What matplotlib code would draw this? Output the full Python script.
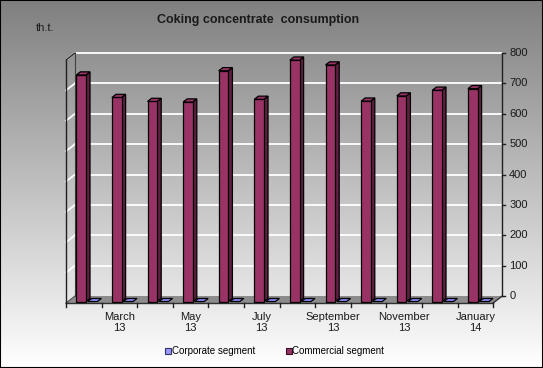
import numpy as np
import matplotlib
matplotlib.use("Agg")
import matplotlib.pyplot as plt
from matplotlib.patches import Polygon, Rectangle
from matplotlib.lines import Line2D

# ---- data ----
months = ["February\n13", "March\n13", "April\n13", "May\n13", "June\n13", "July\n13",
          "August\n13", "September\n13", "October\n13", "November\n13", "December\n13", "January\n14"]
shown_labels = ["", "March\n13", "", "May\n13", "", "July\n13",
                "", "September\n13", "", "November\n13", "", "January\n14"]
commercial = [746, 672, 659, 657, 760, 666, 795, 779, 660, 677, 696, 701]
corporate = [0, 0, 0, 0, 0, 0, 0, 0, 0, 0, 0, 0]
y_ticks = [0, 100, 200, 300, 400, 500, 600, 700, 800]
series_names = ["Corporate segment", "Commercial segment"]

plt.rcParams['font.family'] = ['Liberation Sans', 'DejaVu Sans']

W_PX, H_PX = 543, 368
DPI = 100
fig = plt.figure(figsize=(W_PX / DPI, H_PX / DPI), dpi=DPI)
ax = fig.add_axes([0, 0, 1, 1])
ax.set_axis_off()

# pixel geometry of the pseudo-3D frame
x0_px, cat_px = 66.0, 35.6      # front-left corner, px per category
y0_px, val_px = 303.0, 243.0 / 800  # front floor line, px per unit
dx_px, dy_px = 9.0, 7.0         # depth offset (front -> back)
n = len(commercial)

xl = (-x0_px / cat_px, (W_PX - x0_px) / cat_px)
yl = ((y0_px - H_PX) / val_px, y0_px / val_px)
DU = dx_px / cat_px
DV = dy_px / val_px
VMAX = y_ticks[-1]

def P(u, v, d):
    return (u + d * DU, v + d * DV)

# background gradient (gray at top -> white at bottom)
grad = np.linspace(0, 1, 256).reshape(-1, 1, 1)
top_c = np.array([0.50, 0.50, 0.50]).reshape(1, 1, 3)
bot_c = np.array([1.0, 1.0, 1.0]).reshape(1, 1, 3)
img = top_c + (bot_c - top_c) * grad
ax.imshow(img, extent=[xl[0], xl[1], yl[0], yl[1]], aspect='auto', zorder=0, origin='upper')
ax.set_xlim(xl); ax.set_ylim(yl)

# floor
floor = Polygon([P(0, 0, 0), P(n, 0, 0), P(n, 0, 1), P(0, 0, 1)],
                closed=True, facecolor='#8c8c8c', edgecolor='none', zorder=1)
ax.add_patch(floor)
ax.plot([P(0, 0, 0)[0], P(n, 0, 0)[0]], [P(0, 0, 0)[1], P(n, 0, 0)[1]],
        color='#303030', lw=1.0, zorder=2)
ax.plot([P(n, 0, 0)[0], P(n, 0, 1)[0]], [P(n, 0, 0)[1], P(n, 0, 1)[1]],
        color='#303030', lw=1.0, zorder=2)
ax.plot([P(0, 0, 0)[0], P(0, 0, 1)[0]], [P(0, 0, 0)[1], P(0, 0, 1)[1]],
        color='#505050', lw=0.8, zorder=2)

# gridlines on back wall and left wall
for t in y_ticks:
    if t == 0:
        continue
    b0 = P(0, t, 1); b1 = P(n, t, 1)
    ax.plot([b0[0], b1[0]], [b0[1], b1[1]], color='white', lw=1.3, zorder=1.5)
    f0 = P(0, t, 0)
    ax.plot([f0[0], b0[0]], [f0[1], b0[1]], color='white', lw=1.3, zorder=1.5)

# left wall edges
ax.plot([P(0, 0, 0)[0], P(0, VMAX, 0)[0]], [P(0, 0, 0)[1], P(0, VMAX, 0)[1]],
        color='#202020', lw=1.0, zorder=2)
ax.plot([P(0, VMAX, 0)[0], P(0, VMAX, 1)[0]], [P(0, VMAX, 0)[1], P(0, VMAX, 1)[1]],
        color='#202020', lw=1.0, zorder=2)
ax.plot([P(0, 0, 1)[0], P(0, VMAX, 1)[0]], [P(0, 0, 1)[1], P(0, VMAX, 1)[1]],
        color='#404040', lw=0.8, zorder=1.6)

# right value axis
ra0 = P(n, 0, 1); ra1 = P(n, VMAX, 1)
ax.plot([ra0[0], ra1[0]], [ra0[1], ra1[1]], color='#202020', lw=1.0, zorder=2)
tick_u = 3.0 / cat_px
for t in y_ticks:
    p = P(n, t, 1)
    ax.plot([p[0], p[0] + tick_u], [p[1], p[1]], color='#202020', lw=1.0, zorder=2)
    ax.text(p[0] + 7.0 / cat_px, p[1], str(t), ha='left', va='center',
            fontsize=8, color='#1a1a1a', zorder=3)

# category ticks and labels on the front floor edge
tick_v = 4.0 / val_px
for i in range(n + 1):
    p = P(i, 0, 0)
    ax.plot([p[0], p[0]], [p[1], p[1] - tick_v], color='#202020', lw=1.0, zorder=2)
for i, lab in enumerate(shown_labels):
    if lab:
        p = P(i + 0.5, 0, 0)
        ax.text(p[0], p[1] - 8.5 / val_px, lab, ha='center', va='top',
                fontsize=8, color='#1a1a1a', linespacing=1.15, zorder=3)

# 3D bars
def bar3d(i, a, b, d0, d1, h, face, side, top, z):
    front = [P(i + a, 0, d0), P(i + b, 0, d0), P(i + b, h, d0), P(i + a, h, d0)]
    sidep = [P(i + b, 0, d0), P(i + b, 0, d1), P(i + b, h, d1), P(i + b, h, d0)]
    topp = [P(i + a, h, d0), P(i + b, h, d0), P(i + b, h, d1), P(i + a, h, d1)]
    if h > 0:
        ax.add_patch(Polygon(sidep, closed=True, facecolor=side, edgecolor='black', lw=0.9, zorder=z))
        ax.add_patch(Polygon(front, closed=True, facecolor=face, edgecolor='black', lw=0.9, zorder=z))
    ax.add_patch(Polygon(topp, closed=True, facecolor=top, edgecolor='black', lw=0.9, zorder=z + 0.01))

D0, D1 = 0.2, 0.65
for i in range(n):
    bar3d(i, 0.24, 0.51, D0, D1, commercial[i], '#993366', '#5e1f40', '#993366', 3 + i * 0.1)
    bar3d(i, 0.56, 0.83, D0, D1, corporate[i], '#9999ff', '#5c5cb8', '#8080e8', 3 + i * 0.1 + 0.05)

# titles
fig.text(258 / W_PX, 1 - 20 / H_PX, "Coking concentrate  consumption", ha='center', va='center',
         fontsize=9, fontweight='bold', color='#1a1a1a')
fig.text(36 / W_PX, 1 - 28 / H_PX, "th.t.", ha='left', va='center', fontsize=8, color='#1a1a1a')

# legend
handles = [Line2D([], [], linestyle='none', marker='s', markersize=4.5,
                  markerfacecolor='#9999ff', markeredgecolor='#333366', markeredgewidth=0.8),
           Line2D([], [], linestyle='none', marker='s', markersize=4.5,
                  markerfacecolor='#993366', markeredgecolor='#331122', markeredgewidth=0.8)]
fig.legend(handles, series_names, loc='center', bbox_to_anchor=(275 / W_PX, 1 - 351 / H_PX),
           ncol=2, frameon=False, fontsize=7, handlelength=0.5, handletextpad=0.1,
           columnspacing=3.2, borderpad=0)

# outer border
fig.patches.append(Rectangle((0, 0), 1, 1, transform=fig.transFigure, fill=False,
                             edgecolor='black', lw=1.5, zorder=10))

fig.savefig("out.png", dpi=DPI)
